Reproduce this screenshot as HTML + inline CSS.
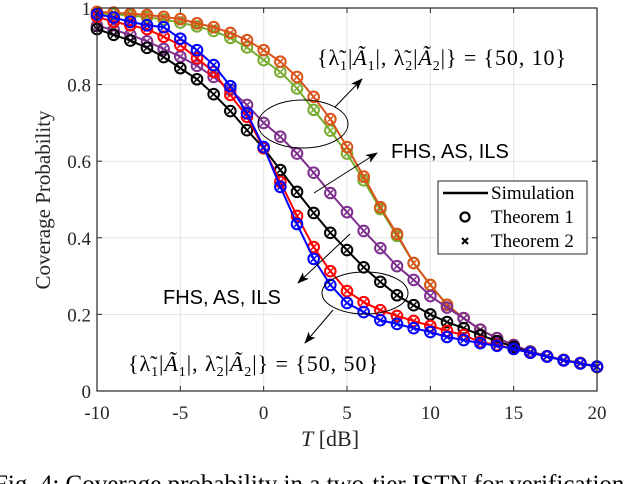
<!DOCTYPE html>
<html><head><meta charset="utf-8"><style>
html,body{margin:0;padding:0;background:#fff;width:638px;height:484px;overflow:hidden}
svg{display:block}
</style></head><body>
<svg id="chart" width="638" height="484" viewBox="0 0 638 484" xmlns="http://www.w3.org/2000/svg"></svg>
<script>
const xValues = [-10,-9,-8,-7,-6,-5,-4,-3,-2,-1,0,1,2,3,4,5,6,7,8,9,10,11,12,13,14,15,16,17,18,19,20];
const orangeVals = [.99,.988,.985,.982,.977,.971,.96,.95,.935,.916,.89,.86,.82,.768,.71,.637,.56,.48,.41,.334,.277,.225,.19,.16,.138,.12,.103,.091,.081,.073,.063];
const greenVals  = [.986,.984,.98,.976,.97,.962,.952,.94,.922,.897,.864,.833,.79,.734,.68,.62,.55,.475,.405,.334,.277,.225,.19,.16,.138,.12,.103,.091,.081,.073,.063];
const purpleVals = [.953,.943,.93,.913,.893,.873,.849,.82,.786,.747,.70,.664,.62,.57,.517,.467,.418,.373,.326,.29,.248,.218,.19,.16,.138,.12,.103,.091,.081,.073,.063];
const blackVals  = [.945,.93,.915,.896,.872,.843,.814,.775,.731,.681,.634,.577,.52,.465,.413,.368,.323,.285,.25,.224,.2,.18,.164,.146,.13,.115,.1,.09,.08,.072,.063];
const redVals    = [.977,.964,.955,.945,.925,.903,.869,.833,.773,.716,.634,.546,.457,.376,.313,.261,.232,.211,.196,.183,.17,.157,.146,.128,.12,.11,.1,.09,.08,.072,.064];
const blueVals   = [.984,.975,.964,.955,.95,.92,.89,.851,.796,.725,.637,.533,.436,.345,.277,.23,.206,.185,.175,.164,.154,.141,.133,.125,.118,.11,.1,.09,.08,.072,.064];
const xTicks = [-10,-5,0,5,10,15,20];
const yTicks = [0,0.2,0.4,0.6,0.8,1];
const yTickLabels = ["0","0.2","0.4","0.6","0.8","1"];

const L=97,R=597,T=8,B=391;
const sx=v=>L+(v+10)/30*(R-L);
const sy=v=>B-v*(B-T);
const NS="http://www.w3.org/2000/svg";
const svg=document.getElementById('chart');
function mk(tag,attrs,parent){const e=document.createElementNS(NS,tag);for(const k in attrs)e.setAttribute(k,attrs[k]);(parent||svg).appendChild(e);return e;}

const grid=mk('g',{});


xTicks.forEach(t=>{mk('line',{x1:sx(t),x2:sx(t),y1:T,y2:B,stroke:'#e3e3e3','stroke-width':1},grid);});
yTicks.forEach(t=>{mk('line',{x1:L,x2:R,y1:sy(t),y2:sy(t),stroke:'#e3e3e3','stroke-width':1},grid);});

const series=[
 ['green-series',greenVals,'#77AC30'],
 ['orange-series',orangeVals,'#D95319'],
 ['purple-series',purpleVals,'#7E2F8E'],
 ['black-series',blackVals,'#000000'],
 ['red-series',redVals,'#FF0000'],
 ['blue-series',blueVals,'#0000FF']];
series.forEach(([name,vals,col])=>{
 const g=mk('g',{});
 
 
 const pts=vals.map((v,i)=>sx(xValues[i])+','+sy(v)).join(' ');
 mk('polyline',{points:pts,fill:'none',stroke:col,'stroke-width':2},g);
 vals.forEach((v,i)=>{
  const cx=sx(xValues[i]),cy=sy(v);
  const c=mk('circle',{cx:cx,cy:cy,r:5.3,fill:'none',stroke:col,'stroke-width':2},g);
  
  
  mk('path',{d:`M${cx-2.8},${cy-2.8}L${cx+2.8},${cy+2.8}M${cx-2.8},${cy+2.8}L${cx+2.8},${cy-2.8}`,stroke:col,'stroke-width':1.5},g);
 });
});

const ax=mk('g',{});


mk('rect',{x:L,y:T,width:R-L,height:B-T,fill:'none',stroke:'#262626','stroke-width':1.2},ax);
xTicks.forEach(t=>{
 mk('line',{x1:sx(t),x2:sx(t),y1:B,y2:B-5,stroke:'#262626'},ax);
 mk('line',{x1:sx(t),x2:sx(t),y1:T,y2:T+5,stroke:'#262626'},ax);
 const tx=mk('text',{x:sx(t),y:419,'text-anchor':'middle','font-family':'Liberation Serif, serif','font-size':19,fill:'#262626'},ax);
 tx.textContent=String(t);
 
 
});
yTicks.forEach((t,i)=>{
 mk('line',{x1:L,x2:L+5,y1:sy(t),y2:sy(t),stroke:'#262626'},ax);
 mk('line',{x1:R,x2:R-5,y1:sy(t),y2:sy(t),stroke:'#262626'},ax);
 const ty=mk('text',{x:L-6,y:sy(t)+7,'text-anchor':'end','font-family':'Liberation Serif, serif','font-size':19,fill:'#262626'},ax);
 ty.textContent=yTickLabels[i];
 
 
});
</script>
<svg style="position:absolute;left:0;top:0" width="638" height="484" viewBox="0 0 638 484" xmlns="http://www.w3.org/2000/svg">
 <defs><marker id="ah" markerWidth="12" markerHeight="9" refX="11" refY="4.5" orient="auto" markerUnits="userSpaceOnUse"><path d="M0,0L12,4.5L0,9L3,4.5Z" fill="#000"/></marker></defs>
 <text transform="translate(50,200) rotate(-90)" text-anchor="middle" font-family="Liberation Serif, serif" font-size="21" fill="#262626">Coverage Probability</text>
 <text x="330" y="446" text-anchor="middle" font-family="Liberation Serif, serif" font-size="22" fill="#262626"><tspan font-style="italic">T</tspan> [dB]</text>
 <ellipse cx="303" cy="124" rx="45" ry="24" fill="none" stroke="#000" stroke-width="1"/>
 <ellipse cx="365" cy="293" rx="43" ry="21" fill="none" stroke="#000" stroke-width="1"/>
 <line x1="335" y1="107" x2="362" y2="79" stroke="#000" marker-end="url(#ah)"/>
 <line x1="333" y1="310" x2="305" y2="343" stroke="#000" marker-end="url(#ah)"/>
 <line x1="314" y1="193" x2="377" y2="153" stroke="#000" marker-end="url(#ah)"/>
 <line x1="350" y1="234" x2="298" y2="283" stroke="#000" marker-end="url(#ah)"/>
 <text x="317" y="65" font-family="Liberation Serif, serif" font-size="22" fill="#000" textLength="249" lengthAdjust="spacing">{λ̃<tspan font-size="14" dy="5">1</tspan><tspan dy="-5">|</tspan><tspan font-style="italic">Ã</tspan><tspan font-size="14" dy="5">1</tspan><tspan dy="-5">|, λ̃</tspan><tspan font-size="14" dy="5">2</tspan><tspan dy="-5">|</tspan><tspan font-style="italic">Ã</tspan><tspan font-size="14" dy="5">2</tspan><tspan dy="-5">|} = {50, 10}</tspan></text>
 <text x="128" y="371" font-family="Liberation Serif, serif" font-size="22" fill="#000" textLength="250" lengthAdjust="spacing">{λ̃<tspan font-size="14" dy="5">1</tspan><tspan dy="-5">|</tspan><tspan font-style="italic">Ã</tspan><tspan font-size="14" dy="5">1</tspan><tspan dy="-5">|, λ̃</tspan><tspan font-size="14" dy="5">2</tspan><tspan dy="-5">|</tspan><tspan font-style="italic">Ã</tspan><tspan font-size="14" dy="5">2</tspan><tspan dy="-5">|} = {50, 50}</tspan></text>
 <text x="391" y="158" font-family="Liberation Sans, sans-serif" font-size="20" fill="#000">FHS, AS, ILS</text>
 <text x="163" y="304" font-family="Liberation Sans, sans-serif" font-size="20" fill="#000">FHS, AS, ILS</text>
 <g>
  <rect x="438" y="181" width="149" height="73" fill="#fff" stroke="#262626" stroke-width="1"/>
  <line x1="443" y1="193" x2="488" y2="193" stroke="#000" stroke-width="2.5"/>
  <text x="491" y="199" font-family="Liberation Serif, serif" font-size="19">Simulation</text>
  <circle cx="465" cy="217" r="4.5" fill="none" stroke="#000" stroke-width="2.2"/>
  <text x="491" y="223" font-family="Liberation Serif, serif" font-size="19">Theorem 1</text>
  <path d="M462,238L468,244M462,244L468,238" stroke="#000" stroke-width="2"/>
  <text x="491" y="247" font-family="Liberation Serif, serif" font-size="19">Theorem 2</text>
 </g>
 <text x="-6" y="492" font-family="Liberation Serif, serif" font-size="25" fill="#000">Fig. 4: Coverage probability in a two-tier ISTN for verification</text>
</svg>
</body></html>
